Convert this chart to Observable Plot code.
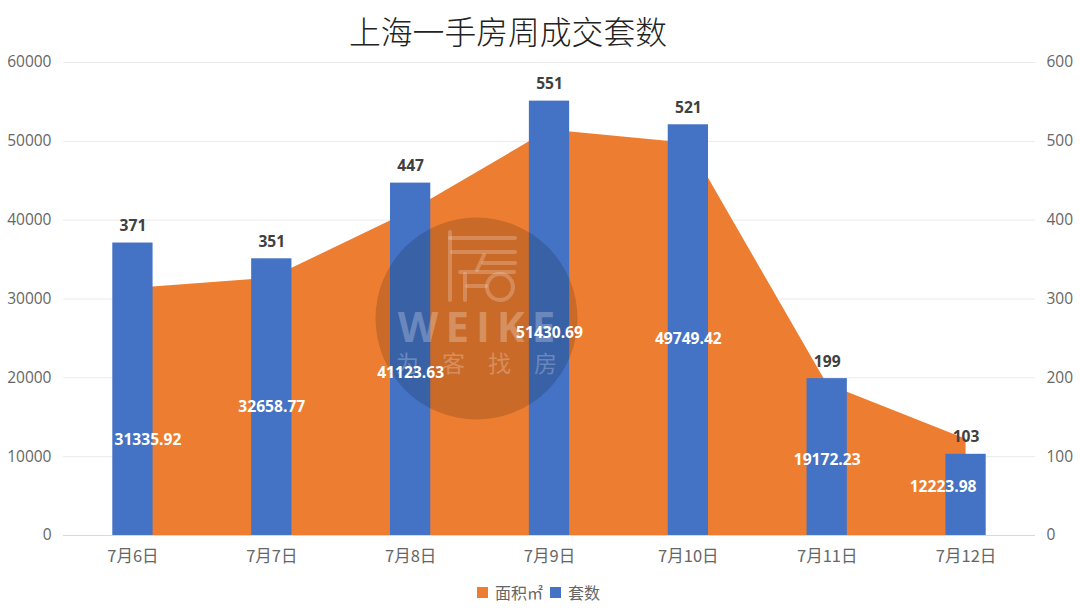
<!DOCTYPE html>
<html>
<head>
<meta charset="utf-8">
<script src="https://cdn.jsdelivr.net/npm/d3@7"></script>
<script src="https://cdn.jsdelivr.net/npm/@observablehq/plot@0.6"></script>
<style>
html,body{margin:0;padding:0;background:#fff;width:1080px;height:609px;overflow:hidden}
#title{height:50px;text-align:center;font:300 31.8px/60px "Noto Sans CJK SC";color:#222;padding-right:64px;box-sizing:border-box;white-space:nowrap}
#chart svg{display:block;overflow:visible}
#legend{height:34px;display:flex;align-items:center;justify-content:flex-start;padding-left:477px;box-sizing:border-box;font:16px "Noto Sans CJK SC";color:#666}
#legend i{display:inline-block;width:11px;height:11px;margin-right:7px}
#legend span{margin-right:7px}
</style>
</head>
<body>
<div id="title">上海一手房周成交套数</div>
<div id="chart"></div>
<div id="legend"><i style="background:#ED7D31"></i><span>面积㎡</span><i style="background:#4472C4"></i><span>套数</span></div>
<script>
const days = ["7月6日","7月7日","7月8日","7月9日","7月10日","7月11日","7月12日"];
const areas = [31335.92,32658.77,41123.63,51430.69,49749.42,19172.23,12223.98];
const sets = [371,351,447,551,521,199,103];
const leftTicks = [0,10000,20000,30000,40000,50000,60000];
const axisRatio = 100;

const rows = days.map((day,i)=>({day,area:areas[i],sets:sets[i]}));
const tickFont = {fontSize:15.5, fontFamily:'"Open Sans","Noto Sans CJK SC",sans-serif', fill:"#666"};
const labelFont = {fontSize:15.6, fontWeight:700, fontFamily:'"Open Sans",sans-serif'};

function houseGlyph(){
  const ns = "http://www.w3.org/2000/svg";
  const g = document.createElementNS(ns,"g");
  g.setAttribute("fill","none");
  g.setAttribute("stroke","#fff");
  g.setAttribute("stroke-opacity","0.22");
  g.setAttribute("stroke-width","4");
  g.setAttribute("stroke-linecap","round");
  g.setAttribute("transform","translate(0,-50)");
  const d = ["M450 232V300","M450 238H515","M452 252H515","M483 263H515","M484 255L477 270","M460 272H514",
             "M465 274V300","M467 286H486"];
  for(const s of d){const p=document.createElementNS(ns,"path");p.setAttribute("d",s);g.appendChild(p);}
  const c=document.createElementNS(ns,"circle");
  c.setAttribute("cx",500);c.setAttribute("cy",287);c.setAttribute("r",13);
  g.appendChild(c);
  return g;
}

const chart = Plot.plot({
  width:1080, height:525,
  marginTop:12, marginBottom:40, marginLeft:63, marginRight:45,
  style:{background:"transparent"},
  x:{type:"band",domain:days,paddingInner:0.71,paddingOuter:0.355,align:0.5,round:false,label:null},
  y:{domain:[0,60000],label:null},
  marks:[
    Plot.gridY(leftTicks,{stroke:"#eaeaea",strokeOpacity:1,strokeWidth:1}),
    Plot.areaY(rows,{x:"day",y:"area",fill:"#ED7D31"}),
    Plot.ruleY([0],{stroke:"#d9d9d9"}),
    Plot.barY(rows,{x:"day",y:d=>d.sets*axisRatio,fill:"#4472C4"}),
    Plot.axisY({anchor:"left",ticks:leftTicks,tickSize:0,tickPadding:12,label:null,tickFormat:d=>String(d),...tickFont}),
    Plot.axisY({anchor:"right",ticks:leftTicks,tickSize:0,tickPadding:11,label:null,tickFormat:d=>String(d/axisRatio),...tickFont}),
    Plot.axisX({anchor:"bottom",tickSize:0,tickPadding:15,label:null,...tickFont,fontFamily:'"Noto Sans CJK SC",sans-serif',fontSize:16.5}),
    // watermark
    Plot.dot([0],{frameAnchor:"middle",dx:-73,dy:19.5,r:101,fill:"#000",fillOpacity:0.15,stroke:"none"}),
    houseGlyph,
    Plot.text(["W\u2009E\u2009I\u2009K\u2009E"],{frameAnchor:"middle",dx:-73,dy:30,text:d=>d,fontSize:42,fontWeight:700,fontFamily:'"Open Sans",sans-serif',fill:"#fff",fillOpacity:0.25}),
    Plot.text(["为\u2003客\u2003找\u2003房"],{frameAnchor:"middle",dx:-73,dy:66,text:d=>d,fontSize:23,fontFamily:'"Noto Sans CJK SC",sans-serif',fill:"#fff",fillOpacity:0.25}),
    // labels
    Plot.text(rows,{x:"day",y:d=>d.sets*axisRatio,text:d=>String(d.sets),dy:-17,...labelFont,fill:"#404040"}),
    Plot.text(rows.filter(d=>d.day!=="7月6日"&&d.day!=="7月12日"),{x:"day",y:d=>d.area/2,text:d=>d.area.toFixed(2),...labelFont,fill:"#fff"}),
    Plot.text(rows.filter(d=>d.day==="7月6日"),{x:"day",y:d=>d.area/2,text:d=>d.area.toFixed(2),dx:15,dy:28,...labelFont,fill:"#fff"}),
    Plot.text(rows.filter(d=>d.day==="7月12日"),{x:"day",y:d=>d.area/2,text:d=>d.area.toFixed(2),dx:-23,...labelFont,fill:"#fff"})
  ]
});
document.getElementById("chart").appendChild(chart);
</script>
</body>
</html>
